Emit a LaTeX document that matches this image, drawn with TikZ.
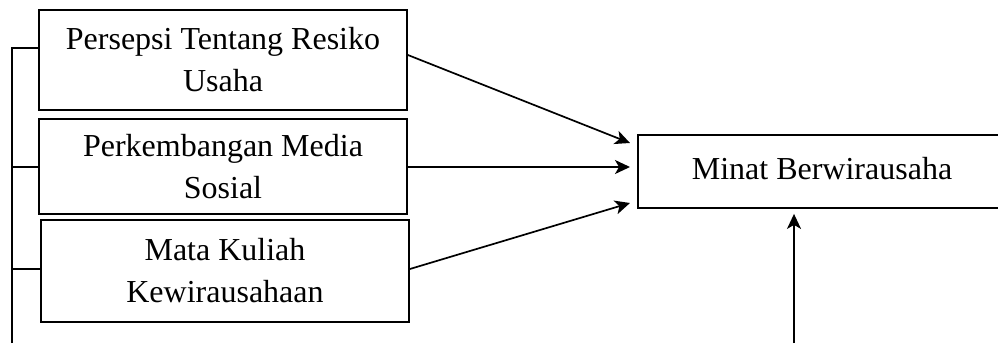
\documentclass[tikz,border=0pt]{standalone}
\usepackage{fontspec}
\setmainfont{Liberation Serif}
\usetikzlibrary{arrows.meta}
\begin{document}
\begin{tikzpicture}[x=1pt,y=-1pt,
  varbox/.style={draw,line width=1.8pt,minimum width=368pt,inner sep=0pt,align=center,
    font=\fontsize{32}{42}\selectfont},
  arr/.style={line width=1.7pt,-{Stealth[length=15pt,width=14pt,inset=4pt]}},
  link/.style={line width=1.8pt}]
\useasboundingbox (0,0) rectangle (998,343);
\clip (0,0) rectangle (998,343);
\node[varbox,minimum height=100pt] (b1) at (223,60) {Persepsi Tentang Resiko\\Usaha};
\node[varbox,minimum height=95pt] (b2) at (223,166.5) {\raisebox{-3pt}{Perkembangan Media}\\\raisebox{-3pt}{Sosial}};
\node[varbox,minimum height=102pt] (b3) at (225,271) {Mata Kuliah\\Kewirausahaan};
\node[varbox,minimum height=73pt] (m) at (822,171.5) {\raisebox{6pt}{Minat Berwirausaha}};
\coordinate (t1) at (630,143);
\coordinate (t2) at (630,167);
\coordinate (t3) at (630,203);
\coordinate (s4) at (794,343);
\coordinate (L) at (12,343);
\coordinate (w1) at ([yshift=12pt]b1.west);
\coordinate (w2) at ([yshift=-0.5pt]b2.west);
\coordinate (e2) at ([yshift=-0.5pt]b2.east);
\coordinate (w3) at ([yshift=2pt]b3.west);
\draw[arr] ([yshift=5pt]b1.east) -- (t1);
\draw[arr] (e2) -- (t2);
\draw[arr] ([yshift=2pt]b3.east) -- (t3);
\draw[arr] (s4) -- ([yshift=-5pt]m.south -| s4);
\draw[link] (L) |- (w1);
\draw[link] (L |- w2) -- (w2);
\draw[link] (L |- w3) -- (w3);
\end{tikzpicture}
\end{document}
